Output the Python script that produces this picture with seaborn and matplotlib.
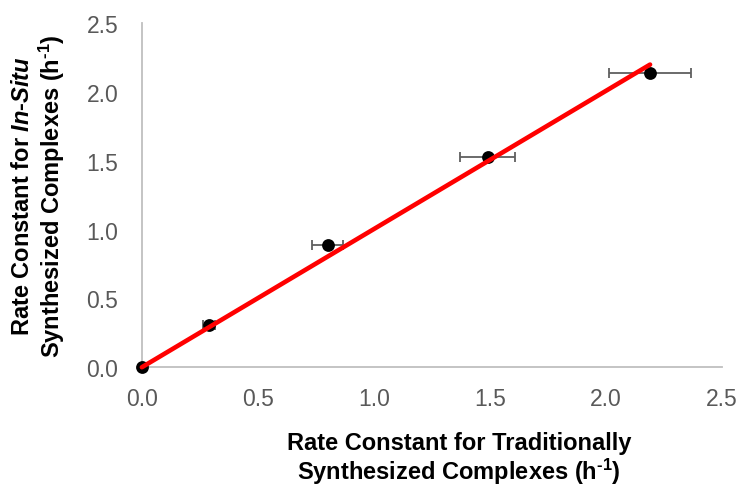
import numpy as np
import matplotlib
matplotlib.use("Agg")
import matplotlib.pyplot as plt
import seaborn as sns
from matplotlib.ticker import MultipleLocator

# rate constants (h^-1)
trad = [0.0, 0.29, 0.80, 1.49, 2.19]
insitu = [0.0, 0.31, 0.89, 1.53, 2.14]
trad_err = [0.0, 0.025, 0.065, 0.12, 0.175]

sns.set_style("white")
plt.rcParams["font.family"] = ["Liberation Sans", "DejaVu Sans"]
plt.rcParams["mathtext.fontset"] = "custom"
plt.rcParams["mathtext.rm"] = "Liberation Sans:bold"
plt.rcParams["mathtext.it"] = "Liberation Sans:italic:bold"
plt.rcParams["mathtext.bf"] = "Liberation Sans:bold"

fig = plt.figure(figsize=(7.39, 4.89), dpi=100)
ax = fig.add_axes([0.192, 0.247, 0.785, 0.704])

# error bars first, then points, then the trendline on top
ax.errorbar(trad, insitu, xerr=trad_err, fmt="none", ecolor="#5f5f5f",
            elinewidth=1.3, capsize=3.6, capthick=1.3, zorder=2)
sns.scatterplot(x=trad, y=insitu, ax=ax, color="black", s=85,
                edgecolor="black", linewidth=0, zorder=3, clip_on=False)

# linear trendline through the origin
x = np.array(trad)
y = np.array(insitu)
slope = (x * y).sum() / (x * x).sum()
sns.lineplot(x=[0, x.max()], y=[0, slope * x.max()], ax=ax,
             color="#ff0000", linewidth=3.3, zorder=4, clip_on=False)

ax.set_xlim(0, 2.5)
ax.set_ylim(0, 2.5)
ax.xaxis.set_major_locator(MultipleLocator(0.5))
ax.xaxis.set_minor_locator(MultipleLocator(0.1))
ax.yaxis.set_major_locator(MultipleLocator(0.5))
ax.yaxis.set_minor_locator(MultipleLocator(0.1))
ax.xaxis.set_major_formatter(matplotlib.ticker.FormatStrFormatter("%.1f"))
ax.yaxis.set_major_formatter(matplotlib.ticker.FormatStrFormatter("%.1f"))

for side in ["top", "right"]:
    ax.spines[side].set_visible(False)
for side in ["left", "bottom"]:
    ax.spines[side].set_color("#bfbfbf")
    ax.spines[side].set_linewidth(1.3)

ax.tick_params(axis="x", which="both", direction="in", colors="#b5b5b5",
               labelcolor="#595959", labelsize=16.5, pad=14, width=1.0)
ax.tick_params(axis="y", which="both", direction="in", colors="#b5b5b5",
               labelcolor="#595959", labelsize=16.5, pad=17, width=1.0)
ax.tick_params(which="major", length=5.5)
ax.tick_params(which="minor", length=3.5)

ax.set_xlabel("Rate Constant for Traditionally\nSynthesized Complexes (h$^{\\text{-}1}$)",
              fontsize=17, fontweight="bold", color="black",
              linespacing=1.1)
ax.xaxis.set_label_coords(0.547, -0.185, transform=ax.transAxes)
ax.xaxis.label.set_verticalalignment("top")
ax.set_ylabel("Rate Constant for $\\mathit{In}$-$\\mathit{Situ}$\nSynthesized Complexes (h$^{\\text{-}1}$)",
              fontsize=17, fontweight="bold", color="black", labelpad=14,
              linespacing=1.1)

fig.savefig("out.png", dpi=100)
